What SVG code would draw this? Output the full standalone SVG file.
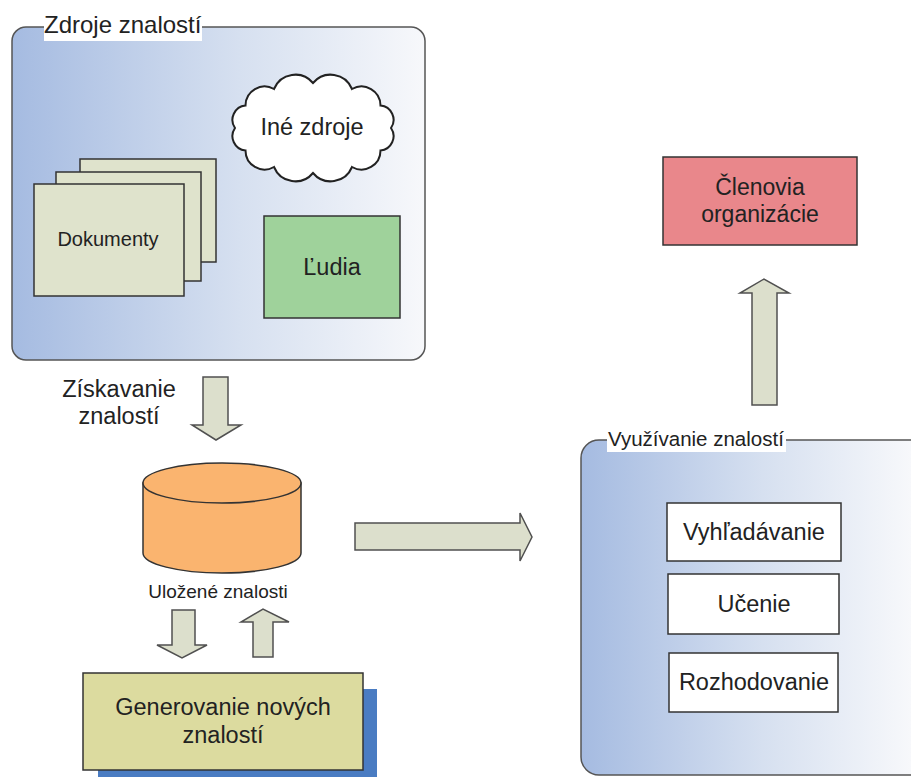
<svg xmlns="http://www.w3.org/2000/svg" width="911" height="777" viewBox="0 0 911 777">
<defs>
<linearGradient id="gBlue" x1="0" y1="0" x2="1" y2="0">
<stop offset="0" stop-color="#a5bbe1"/>
<stop offset="0.55" stop-color="#d6e0f0"/>
<stop offset="1" stop-color="#f7f8fb"/>
</linearGradient>
<linearGradient id="gBlue2" x1="581" y1="0" x2="911" y2="0" gradientUnits="userSpaceOnUse">
<stop offset="0" stop-color="#a5bbe1"/>
<stop offset="0.55" stop-color="#d6e0f0"/>
<stop offset="1" stop-color="#f7f8fb"/>
</linearGradient>
<style>
text{font-family:"Liberation Sans",Arial,sans-serif;fill:#222;}
.c{text-anchor:middle;}
.box{stroke:#333;stroke-width:1.5;}
.arrow{fill:#dcdfcc;stroke:#505050;stroke-width:1.5;stroke-linejoin:miter;}
.cont{stroke:#555;stroke-width:1.5;}
.lbl{fill:#ffffff;}
</style>
</defs>
<rect width="911" height="777" fill="#ffffff"/>

<g id="zdroje">
<rect class="cont" x="12" y="27" width="413" height="333" rx="14" fill="url(#gBlue)"/>
<rect class="lbl" x="44" y="15" width="158" height="26"/>
<text x="44" y="33" font-size="24">Zdroje znalostí</text>
</g>

<g id="ine-zdroje">
<path d="M391,128 A14.4,14.4 0 0 1 380.5,150.5 A19,19 0 0 1 352,167 A23,23 0 0 1 313,173 A23,23 0 0 1 274,167 A19,19 0 0 1 245.5,150.5 A14.4,14.4 0 0 1 235,128 A14.4,14.4 0 0 1 245.5,105.5 A19,19 0 0 1 274,89 A23,23 0 0 1 313,83 A23,23 0 0 1 352,89 A19,19 0 0 1 380.5,105.5 A14.4,14.4 0 0 1 391,128 Z" fill="#ffffff" stroke="#222" stroke-width="2"/>
<text class="c" x="312" y="135" font-size="23.5">Iné zdroje</text>
</g>

<g id="dokumenty">
<rect class="box" x="80" y="159" width="136" height="103" fill="#dfe3cc" stroke-width="2"/>
<rect class="box" x="56" y="172" width="145" height="109" fill="#dfe3cc" stroke-width="2"/>
<rect class="box" x="34" y="184" width="150" height="112" fill="#dfe3cc" stroke-width="2"/>
<text class="c" x="108" y="246" font-size="20">Dokumenty</text>
</g>

<g id="ludia">
<rect class="box" x="264" y="216" width="136" height="102" fill="#9fd29b"/>
<text class="c" x="332" y="275" font-size="23.5">Ľudia</text>
</g>

<g id="ziskavanie-label">
<text class="c" x="119" y="397" font-size="23.5">Získavanie</text>
<text class="c" x="119" y="424" font-size="23.5">znalostí</text>
</g>

<g id="ulozene">
<path d="M143,483 L143,553 A79,20 0 0 0 301,553 L301,483 Z" fill="#fab46f" stroke="#333" stroke-width="1.5"/>
<ellipse cx="222" cy="483" rx="79" ry="20" fill="#fab46f" stroke="#333" stroke-width="1.5"/>
<text class="c" x="218" y="598" font-size="19">Uložené znalosti</text>
</g>

<g id="generovanie">
<rect x="98" y="689" width="279" height="100" fill="#4a7cc2"/>
<rect class="box" x="83" y="673" width="280" height="97" fill="#dcdb9f"/>
<text class="c" x="223" y="715" font-size="23.5">Generovanie nových</text>
<text class="c" x="223" y="743" font-size="23.5">znalostí</text>
</g>

<g id="clenovia">
<rect class="box" x="663" y="157" width="194" height="88" fill="#e9878b"/>
<text class="c" x="760" y="195" font-size="23">Členovia</text>
<text class="c" x="760" y="222" font-size="23">organizácie</text>
</g>

<g id="vyuzivanie">
<rect class="cont" x="581" y="440" width="360" height="335" rx="18" fill="url(#gBlue2)"/>
<rect class="lbl" x="607" y="430" width="179" height="22"/>
<text x="608" y="446" font-size="20.5">Využívanie znalostí</text>
</g>

<g id="vyhladavanie">
<rect class="box" x="667" y="503" width="174" height="58" fill="#ffffff"/>
<text class="c" x="754" y="540" font-size="23.5">Vyhľadávanie</text>
</g>
<g id="ucenie">
<rect class="box" x="668" y="574" width="171" height="60" fill="#ffffff"/>
<text class="c" x="754" y="612" font-size="23.5">Učenie</text>
</g>
<g id="rozhodovanie">
<rect class="box" x="669" y="653" width="169" height="59" fill="#ffffff"/>
<text class="c" x="754" y="690" font-size="23.5">Rozhodovanie</text>
</g>

<g id="connectors">
<polygon class="arrow" points="203,377 228,377 228,425 241,425 216,440 192,425 203,425"/>
<polygon class="arrow" points="172,610 195,610 195,645 207,645 182,658 157,645 172,645"/>
<polygon class="arrow" points="253,657 273,657 273,622 289,622 263,609 241,622 253,622"/>
<polygon class="arrow" points="355,523 520,523 520,513 532,537 520,561 520,550 355,550"/>
<polygon class="arrow" points="752,405 777,405 777,293 789,293 764,279 740,293 752,293"/>
</g>
</svg>
